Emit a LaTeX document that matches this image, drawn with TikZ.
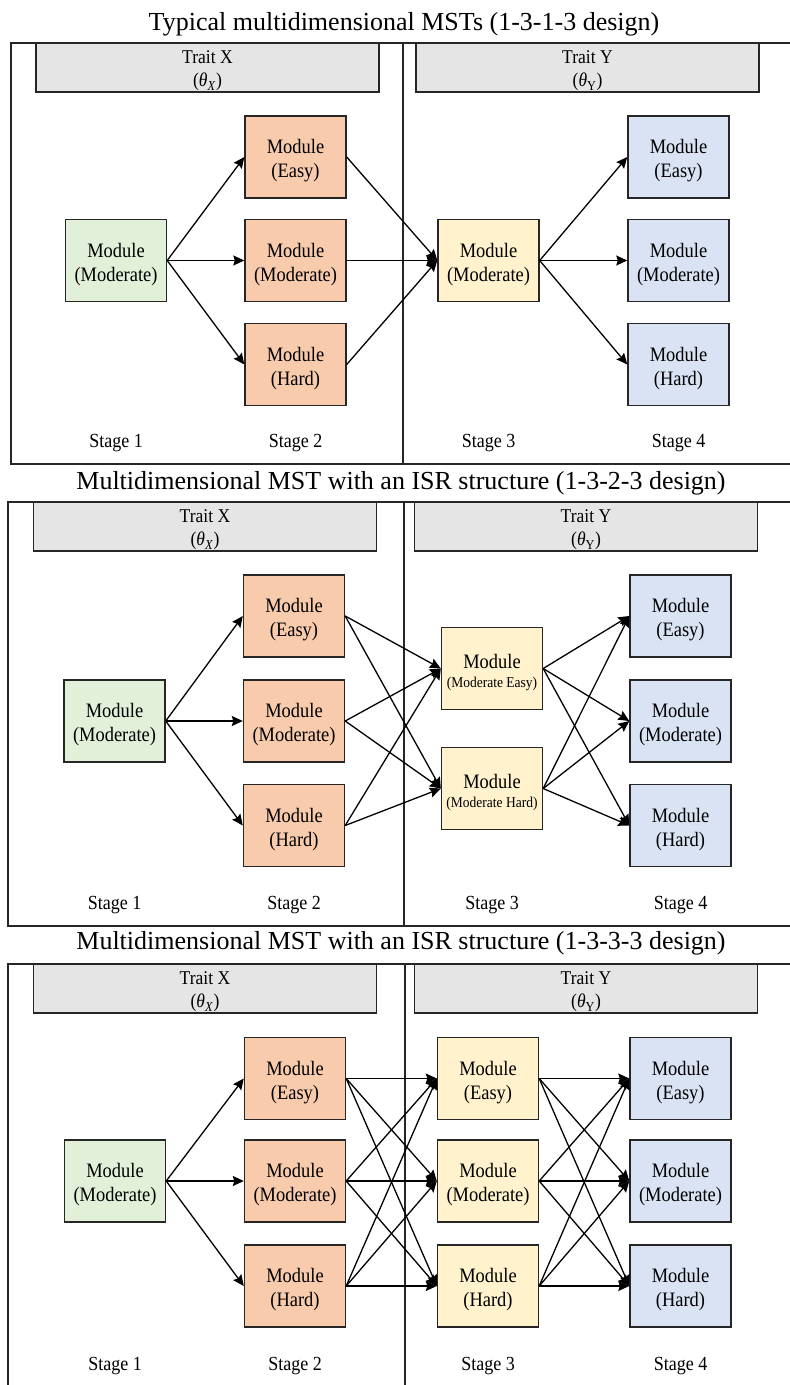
\documentclass[tikz,border=0pt]{standalone}
\usepackage{fontspec}
\setmainfont{Liberation Serif}
\newfontfamily\tallserif{Liberation Serif}[FakeStretch=0.9]
\usetikzlibrary{arrows.meta}
\definecolor{traitgray}{HTML}{E5E5E5}
\definecolor{modgreen}{HTML}{E2F0D9}
\definecolor{modorange}{HTML}{F8CBAD}
\definecolor{modyellow}{HTML}{FFF2CC}
\definecolor{modblue}{HTML}{DAE3F3}
\definecolor{edgegray}{HTML}{262626}
\newcommand{\smallmod}{\fontsize{15}{17}\selectfont}
% module label: two lines, nudged a little below the box centre
\newcommand{\modtxt}[1]{\rule{0pt}{22pt}Module\\(#1)}
\newcommand{\modsmall}[1]{\rule{0pt}{22pt}Module\\[-5pt]{\smallmod(#1)}}
\tikzset{
  modbox/.style={draw=edgegray, line width=1.4pt, minimum width=101pt, minimum height=82pt,
    inner sep=0pt, align=center, font=\tallserif\fontsize{20.5}{24}\selectfont},
  sone/.style={modbox, fill=modgreen},
  stwo/.style={modbox, fill=modorange},
  sthree/.style={modbox, fill=modyellow},
  sfour/.style={modbox, fill=modblue},
  traitbox/.style={draw=edgegray, line width=1.4pt, fill=traitgray, minimum width=343pt,
    minimum height=49pt, inner sep=0pt, align=center, font=\tallserif\fontsize{19.5}{23}\selectfont},
  stagelbl/.style={anchor=base, font=\tallserif\fontsize{20}{22}\selectfont},
  titlelbl/.style={anchor=base, font=\fontsize{26}{30}\selectfont},
  arr/.style={line width=1.3pt, draw=black, -{Stealth[length=11pt,width=10pt,inset=1.5pt]}},
  panelframe/.style={line width=1.3pt, draw=edgegray}
}
\newcommand{\traitx}{\rule{0pt}{20pt}Trait X\\(\textit{θ}\textsubscript{\textit{X}})}
\newcommand{\traity}{\rule{0pt}{20pt}Trait Y\\(\textit{θ}\textsubscript{Y})}
\begin{document}
\begin{tikzpicture}[x=1pt,y=-1pt]
\useasboundingbox (0,0) rectangle (790,1385);

% ---------- Panel 1: 1-3-1-3 ----------
\node[titlelbl] (t1) at (404,30) {Typical multidimensional MSTs (1-3-1-3 design)};
\draw[panelframe] (795,43) -- (11,43) -- (11,464) -- (795,464);
\draw[panelframe] (403,43) -- (403,464);
\node[traitbox] (p1tx) at (207.5,67.5) {\traitx};
\node[traitbox] (p1ty) at (587.5,67.5) {\traity};

\node[sone] (p1a) at (116,260.5) {\modtxt{Moderate}};
\node[stwo] (p1be) at (295.5,157) {\modtxt{Easy}};
\node[stwo] (p1bm) at (295.5,260.5) {\modtxt{Moderate}};
\node[stwo] (p1bh) at (295.5,364.5) {\modtxt{Hard}};
\node[sthree] (p1c) at (488.5,260.5) {\modtxt{Moderate}};
\node[sfour] (p1de) at (678.5,157) {\modtxt{Easy}};
\node[sfour] (p1dm) at (678.5,260.5) {\modtxt{Moderate}};
\node[sfour] (p1dh) at (678.5,364.5) {\modtxt{Hard}};

\node[stagelbl] (p1l1) at (116,447) {Stage 1};
\node[stagelbl] (p1l2) at (295.5,447) {Stage 2};
\node[stagelbl] (p1l3) at (488.5,447) {Stage 3};
\node[stagelbl] (p1l4) at (678.5,447) {Stage 4};

\foreach \t in {e,m,h} {
  \draw[arr] (p1a.east) -- (p1b\t.west);
  \draw[arr] (p1b\t.east) -- (p1c.west);
  \draw[arr] (p1c.east) -- (p1d\t.west);
}

% ---------- Panel 2: 1-3-2-3 ----------
\node[titlelbl] (t2) at (401,489) {Multidimensional MST with an ISR structure (1-3-2-3 design)};
\draw[panelframe] (795,502) -- (8,502) -- (8,926) -- (795,926);
\draw[panelframe] (404,502) -- (404,926);
\node[traitbox] (p2tx) at (205,526.5) {\traitx};
\node[traitbox] (p2ty) at (586,526.5) {\traity};

\node[sone] (p2a) at (114.5,721) {\modtxt{Moderate}};
\node[stwo] (p2be) at (294,616) {\modtxt{Easy}};
\node[stwo] (p2bm) at (294,721) {\modtxt{Moderate}};
\node[stwo] (p2bh) at (294,825.5) {\modtxt{Hard}};
\node[sthree] (p2ce) at (492,668.5) {\modsmall{Moderate Easy}};
\node[sthree] (p2ch) at (492,788.5) {\modsmall{Moderate Hard}};
\node[sfour] (p2de) at (680.5,616) {\modtxt{Easy}};
\node[sfour] (p2dm) at (680.5,721) {\modtxt{Moderate}};
\node[sfour] (p2dh) at (680.5,825.5) {\modtxt{Hard}};

\node[stagelbl] (p2l1) at (114.5,909) {Stage 1};
\node[stagelbl] (p2l2) at (294,909) {Stage 2};
\node[stagelbl] (p2l3) at (492,909) {Stage 3};
\node[stagelbl] (p2l4) at (680.5,909) {Stage 4};

\foreach \t in {e,m,h} {
  \draw[arr] (p2a.east) -- (p2b\t.west);
  \foreach \s in {e,h} {
    \draw[arr] (p2b\t.east) -- (p2c\s.west);
    \draw[arr] (p2c\s.east) -- (p2d\t.west);
  }
}

% ---------- Panel 3: 1-3-3-3 ----------
\node[titlelbl] (t3) at (401,949) {Multidimensional MST with an ISR structure (1-3-3-3 design)};
\draw[panelframe] (795,964) -- (8,964) -- (8,1390);
\draw[panelframe] (405,964) -- (405,1390);
\node[traitbox] (p3tx) at (205,988.5) {\traitx};
\node[traitbox] (p3ty) at (586,988.5) {\traity};

\node[sone] (p3a) at (115,1181) {\modtxt{Moderate}};
\node[stwo] (p3be) at (295,1078.5) {\modtxt{Easy}};
\node[stwo] (p3bm) at (295,1181) {\modtxt{Moderate}};
\node[stwo] (p3bh) at (295,1286) {\modtxt{Hard}};
\node[sthree] (p3ce) at (488,1078.5) {\modtxt{Easy}};
\node[sthree] (p3cm) at (488,1181) {\modtxt{Moderate}};
\node[sthree] (p3ch) at (488,1286) {\modtxt{Hard}};
\node[sfour] (p3de) at (680.5,1078.5) {\modtxt{Easy}};
\node[sfour] (p3dm) at (680.5,1181) {\modtxt{Moderate}};
\node[sfour] (p3dh) at (680.5,1286) {\modtxt{Hard}};

\node[stagelbl] (p3l1) at (115,1370) {Stage 1};
\node[stagelbl] (p3l2) at (295,1370) {Stage 2};
\node[stagelbl] (p3l3) at (488,1370) {Stage 3};
\node[stagelbl] (p3l4) at (680.5,1370) {Stage 4};

\foreach \t in {e,m,h} {
  \draw[arr] (p3a.east) -- (p3b\t.west);
  \foreach \s in {e,m,h} {
    \draw[arr] (p3b\t.east) -- (p3c\s.west);
    \draw[arr] (p3c\t.east) -- (p3d\s.west);
  }
}
\end{tikzpicture}
\end{document}
